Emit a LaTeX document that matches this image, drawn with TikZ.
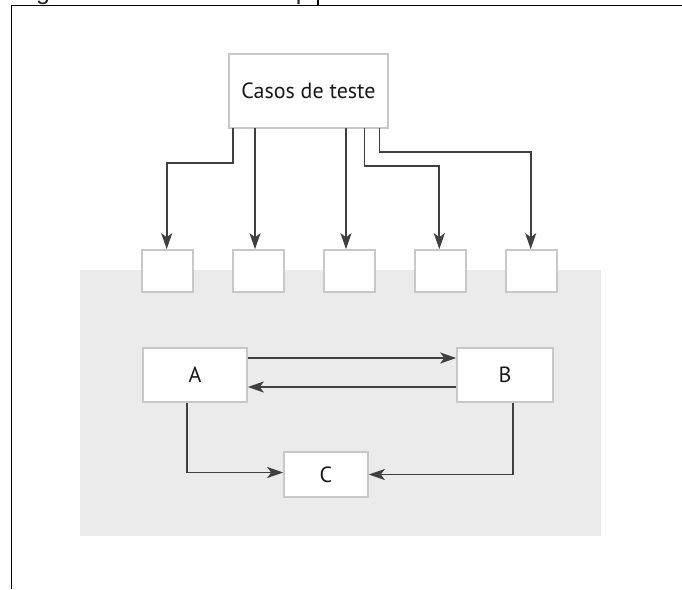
\documentclass[tikz,border=0pt]{standalone}
\usepackage{fontspec}
\setmainfont{PT Sans}
\newfontfamily\capfont{Liberation Sans}
\usetikzlibrary{arrows.meta,calc}
\definecolor{boxline}{HTML}{C8C8C8}
\definecolor{conncol}{HTML}{404040}
\definecolor{bgarea}{HTML}{EBEBEB}
\tikzset{
  bx/.style={draw=boxline, line width=1.6pt, fill=white, inner sep=0pt, font=\fontsize{22}{26}\selectfont, text=black!90},
  conn/.style={draw=conncol, line width=1.8pt, -{Stealth[length=16pt,width=11pt,inset=4pt]}},
  frame/.style={draw=black, line width=1.6pt}
}
\begin{document}
\begin{tikzpicture}[x=1pt,y=-1pt]
\useasboundingbox (0,0) rectangle (682,589);
% caption (cut off at the top edge)
\node[anchor=base west, inner sep=0pt, font=\fontsize{25}{28}\selectfont\capfont, text=black!85] (cap) at (15,-0.5) {Figura 2 - Testes de Componente};
% frame
\draw[frame] (11.5,589) -- (11.5,5.5) -- (682,5.5);
\draw[frame] (318,0) -- (318,5.5);
% grey area
\fill[bgarea] (80,270) rectangle (601,536);
% nodes
\node[bx, minimum width=159pt, minimum height=74pt] (casos) at (308.5,91) {Casos de teste};
\foreach \i/\x in {1/167.5,2/258.5,3/349.5,4/440.5,5/531.5}{
  \node[bx, minimum width=51pt, minimum height=42pt] (b\i) at (\x,271) {};
}
\node[bx, minimum width=104pt, minimum height=54pt] (A) at (195,375) {A};
\node[bx, minimum width=96pt, minimum height=54pt] (B) at (505,375) {B};
\node[bx, minimum width=84pt, minimum height=45pt] (C) at (326,474.5) {C};
% connectors from Casos de teste
\coordinate (d1) at (233,128);
\coordinate (d2) at (255,128);
\coordinate (d3) at (346,128);
\coordinate (d4) at (364.5,128);
\coordinate (d5) at (379.5,128);
\draw[conn] (d1) -- ++(0,35) -| ([xshift=-0.8pt]b1.north);
\draw[conn] (d2) -- (d2 |- b2.north);
\draw[conn] (d3) -- (d3 |- b3.north);
\draw[conn] (d4) -- ++(0,38) -| ([xshift=-1.2pt]b4.north);
\draw[conn] (d5) -- ++(0,24) -| ([xshift=-0.8pt]b5.north);
% A, B, C
\draw[conn] ([yshift=17pt]A.east) -- ([yshift=17pt]B.west);
\draw[conn] ([yshift=-12pt]B.west) -- ([yshift=-12pt]A.east);
\draw[conn] ([xshift=-8pt]A.south) |- ([yshift=2pt]C.west);
\draw[conn] ([xshift=8pt]B.south) |- (C.east);
\end{tikzpicture}
\end{document}
